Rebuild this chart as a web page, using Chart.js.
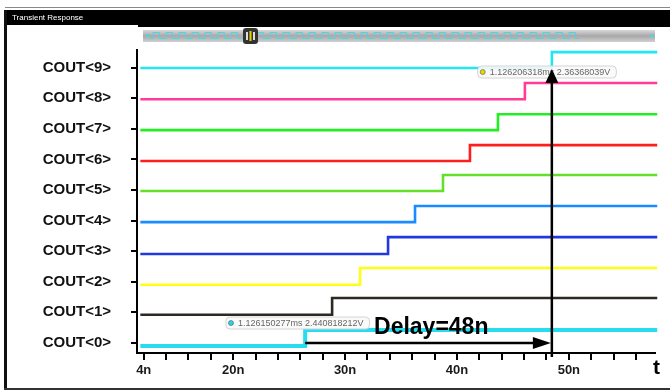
<!DOCTYPE html>
<html>
<head>
<meta charset="utf-8">
<script src="https://cdn.jsdelivr.net/npm/chart.js@4.4.0/dist/chart.umd.min.js"></script>
<style>
  html, body { margin: 0; padding: 0; background: #fff; }
</style>
</head>
<body>
<canvas id="chart" width="670" height="392"></canvas>
<script>
// signal traces (time in ns, level in "row" units)
let signalNames = ["COUT<0>", "COUT<1>", "COUT<2>", "COUT<3>", "COUT<4>",
                   "COUT<5>", "COUT<6>", "COUT<7>", "COUT<8>", "COUT<9>"];
let signalColors = ["#26dcee", "#2e2822", "#ffff14", "#2038e0", "#1a8cff",
                    "#62e02a", "#ff1e1e", "#22ee22", "#ff3c9a", "#22e6f4"];
let lowLevels  = [-0.10, 0.92, 1.90, 2.91, 3.95, 4.97, 5.95, 6.96, 7.97, 8.99];
let highLevels = [0.42, 1.47, 2.45, 3.46, 4.48, 5.49, 6.47, 7.48, 8.50, 9.51];
let switchTimes = [26.43, 28.84, 31.34, 33.84, 36.25, 38.75, 41.16, 43.66, 46.07, 48.48];
let traceStart = 11.7;
let traceEnd = 57.9;

// x axis ticks (every 2n) and the few that carry text
let xTicks = [12, 14, 16, 18, 20, 22, 24, 26, 28, 30, 32, 34, 36, 38, 40,
              42, 44, 46, 48, 50, 52, 54, 56];
let labeledTicks = [12, 20, 30, 40, 50];
let labeledText = ["4n", "20n", "30n", "40n", "50n"];

// cursor read-outs
let cursorLow  = { t: 19.8, level: 0.65, color: "#22d8ea", text: "1.126150277ms 2.440818212V" };
let cursorHigh = { t: 42.3, level: 8.86, color: "#e8d800", text: "1.126206318ms 2.36368039V" };
let delayText = "Delay=48n";

let datasets = [];
for (let i = 0; i < signalNames.length; i++) {
  datasets.push({
    label: signalNames[i],
    data: [
      { x: traceStart, y: lowLevels[i] },
      { x: switchTimes[i], y: highLevels[i] },
      { x: traceEnd, y: highLevels[i] }
    ],
    borderColor: signalColors[i],
    borderWidth: i === 0 ? 4 : 2.6,
    stepped: "before",
    pointRadius: 0,
    fill: false,
    clip: false
  });
}

function roundRect(ctx, x, y, w, h, r) {
  ctx.beginPath();
  ctx.moveTo(x + r, y);
  ctx.lineTo(x + w - r, y);
  ctx.quadraticCurveTo(x + w, y, x + w, y + r);
  ctx.lineTo(x + w, y + h - r);
  ctx.quadraticCurveTo(x + w, y + h, x + w - r, y + h);
  ctx.lineTo(x + r, y + h);
  ctx.quadraticCurveTo(x, y + h, x, y + h - r);
  ctx.lineTo(x, y + r);
  ctx.quadraticCurveTo(x, y, x + r, y);
  ctx.closePath();
}

function drawCursor(ctx, xs, ys, c) {
  let x = xs.getPixelForValue(c.t);
  let y = ys.getPixelForValue(c.level);
  ctx.save();
  ctx.font = "9px 'Liberation Sans', Arial, sans-serif";
  let w = ctx.measureText(c.text).width + 18;
  roundRect(ctx, x - 5, y - 6, w, 12, 4);
  ctx.fillStyle = "rgba(250,250,250,0.9)";
  ctx.fill();
  ctx.strokeStyle = "#d4d4d4";
  ctx.lineWidth = 1;
  ctx.stroke();
  ctx.beginPath();
  ctx.arc(x, y, 2.5, 0, Math.PI * 2);
  ctx.fillStyle = c.color;
  ctx.fill();
  ctx.strokeStyle = "#555";
  ctx.lineWidth = 0.6;
  ctx.stroke();
  ctx.fillStyle = "#666";
  ctx.textBaseline = "middle";
  ctx.fillText(c.text, x + 7, y + 0.5);
  ctx.restore();
}

// window chrome: frame, title bar, overview scrollbar
let chromePlugin = {
  id: "chrome",
  beforeDraw(chart) {
    let ctx = chart.ctx;
    ctx.save();
    ctx.fillStyle = "#fff";
    ctx.fillRect(0, 0, 670, 392);

    ctx.fillStyle = "#888";
    ctx.fillRect(5, 7, 665, 1);
    ctx.fillStyle = "#000";
    ctx.fillRect(5, 10, 665, 15);
    ctx.fillRect(138, 10, 532, 17);
    ctx.fillStyle = "#fff";
    ctx.font = "8px 'Liberation Sans', Arial, sans-serif";
    ctx.textBaseline = "middle";
    ctx.fillText("Transient Response", 12, 18);

    ctx.fillStyle = "#111";
    ctx.fillRect(4, 10, 3, 380);
    ctx.fillStyle = "#333";
    ctx.fillRect(4, 388, 666, 2);

    let g = ctx.createLinearGradient(0, 30, 0, 42);
    g.addColorStop(0, "#d8d8d8");
    g.addColorStop(0.5, "#a8a8a8");
    g.addColorStop(1, "#d0d0d0");
    ctx.fillStyle = g;
    ctx.fillRect(143, 30, 512, 12);
    ctx.strokeStyle = "#4ad6e6";
    ctx.lineWidth = 1;
    ctx.beginPath();
    ctx.moveTo(150, 38.5);
    for (let x = 150; x < 574; x += 13) {
      ctx.lineTo(x + 3, 38.5);
      ctx.lineTo(x + 3, 32.5);
      ctx.lineTo(x + 9.5, 32.5);
      ctx.lineTo(x + 9.5, 38.5);
      ctx.lineTo(x + 13, 38.5);
    }
    ctx.stroke();
    ctx.fillStyle = "#4ad6e6";
    ctx.fillRect(146, 34, 3, 3);
    ctx.fillRect(650, 34, 3, 3);
    roundRect(ctx, 243, 28, 15, 16, 3);
    ctx.fillStyle = "#333";
    ctx.fill();
    ctx.fillStyle = "#ddd";
    ctx.fillRect(246, 32, 2, 8);
    ctx.fillRect(253, 32, 2, 8);
    ctx.fillStyle = "#e8d000";
    ctx.fillRect(249.5, 31, 2, 10);
    ctx.restore();
  },
  afterDraw(chart) {
    let ctx = chart.ctx;
    let xs = chart.scales.x;
    let ys = chart.scales.y;
    let area = chart.chartArea;
    ctx.save();

    drawCursor(ctx, xs, ys, cursorLow);
    drawCursor(ctx, xs, ys, cursorHigh);

    // vertical arrow at the COUT<9> edge
    let ax = xs.getPixelForValue(switchTimes[9]);
    let topY = ys.getPixelForValue(lowLevels[9]) + 1;
    ctx.strokeStyle = "#000";
    ctx.fillStyle = "#000";
    ctx.lineWidth = 2.5;
    ctx.beginPath();
    ctx.moveTo(ax, area.bottom + 4);
    ctx.lineTo(ax, topY + 10);
    ctx.stroke();
    ctx.beginPath();
    ctx.moveTo(ax, topY);
    ctx.lineTo(ax - 6.5, topY + 14);
    ctx.lineTo(ax + 6.5, topY + 14);
    ctx.closePath();
    ctx.fill();

    // horizontal delay arrow from COUT<0> edge to COUT<9> edge
    let hy = ys.getPixelForValue(0);
    let hx0 = xs.getPixelForValue(switchTimes[0]);
    let hx1 = ax - 1;
    ctx.beginPath();
    ctx.moveTo(hx0, hy);
    ctx.lineTo(hx1 - 12, hy);
    ctx.stroke();
    ctx.beginPath();
    ctx.moveTo(hx1, hy);
    ctx.lineTo(hx1 - 18, hy - 6);
    ctx.lineTo(hx1 - 18, hy + 6);
    ctx.closePath();
    ctx.fill();

    ctx.font = "bold 23px 'Liberation Sans', Arial, sans-serif";
    ctx.textAlign = "center";
    ctx.textBaseline = "middle";
    ctx.fillText(delayText, xs.getPixelForValue(37.7), ys.getPixelForValue(0.49));

    ctx.font = "bold 21px 'Liberation Sans', Arial, sans-serif";
    ctx.textAlign = "left";
    ctx.fillText("t", area.right - 2, area.bottom + 15);
    ctx.restore();
  }
};

new Chart(document.getElementById("chart"), {
  type: "line",
  data: { datasets: datasets },
  options: {
    responsive: false,
    devicePixelRatio: 1,
    animation: false,
    layout: { padding: { left: 0, right: 15, top: 50, bottom: 0 } },
    plugins: { legend: { display: false }, tooltip: { enabled: false } },
    scales: {
      x: {
        type: "linear",
        min: 11.4,
        max: 57.7,
        afterBuildTicks: scale => { scale.ticks = xTicks.map(v => ({ value: v })); },
        afterFit: scale => { scale.height = 39; },
        grid: { drawOnChartArea: false, color: "#000", lineWidth: 2, tickLength: 7 },
        border: { display: true, color: "#000", width: 2 },
        ticks: {
          autoSkip: false,
          maxRotation: 0,
          padding: 3,
          color: "#1a1a1a",
          font: { family: "'Liberation Sans', Arial, sans-serif", size: 13, weight: "bold" },
          callback: value => {
            let k = labeledTicks.indexOf(value);
            return k >= 0 ? labeledText[k] : "";
          }
        }
      },
      y: {
        type: "linear",
        min: -0.33,
        max: 9.58,
        afterBuildTicks: scale => { scale.ticks = signalNames.map((n, i) => ({ value: i })); },
        afterFit: scale => { scale.width = 137; },
        grid: { drawOnChartArea: false, color: "#000", lineWidth: 2, tickLength: 6 },
        border: { display: true, color: "#000", width: 2 },
        ticks: {
          autoSkip: false,
          padding: 20,
          color: "#111",
          font: { family: "'Liberation Sans', Arial, sans-serif", size: 15, weight: "bold" },
          callback: value => signalNames[value]
        }
      }
    }
  },
  plugins: [chromePlugin]
});
</script>
</body>
</html>
